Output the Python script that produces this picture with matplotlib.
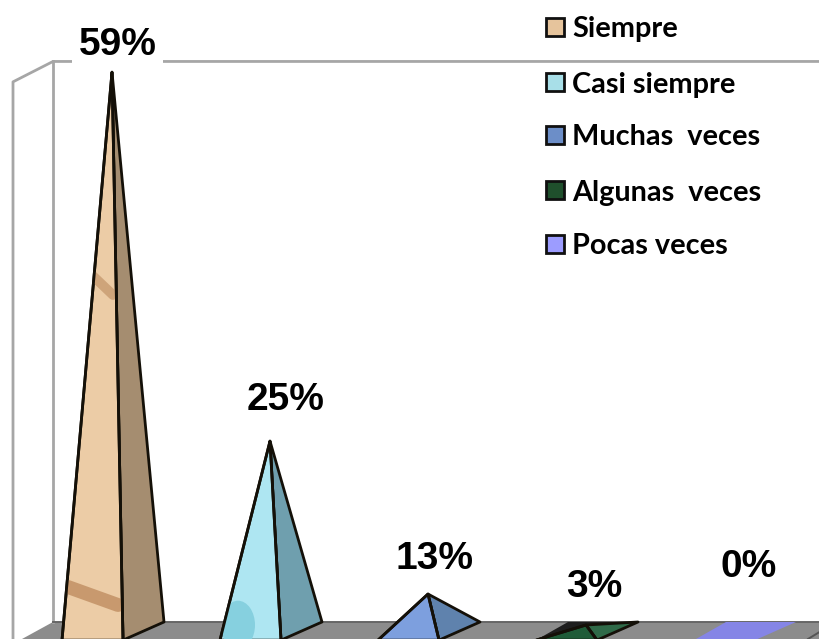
import matplotlib
matplotlib.use("Agg")
import matplotlib.pyplot as plt
from matplotlib.patches import Polygon, Ellipse, Rectangle

categories = ["Siempre", "Casi siempre", "Muchas  veces", "Algunas  veces", "Pocas veces"]
percent_labels = ["59%", "25%", "13%", "3%", "0%"]
# drawn apex height (chart units, perspective-distorted)
apex_heights = [59.0, 21.0, 5.25, 2.06, 0.0]
label_heights = [61.75, 25.2, 8.9, 5.95, 8.0]
label_dx = [0.035, 0.10, 0.04, 0.05, 0.03]

front_colors = ["#ecccA6", "#aee6f2", "#7d9fde", "#1f5c38", "#8585e6"]
side_colors = ["#a58d70", "#6f9fae", "#5f82ad", "#2f6a48", "#8585e6"]
base_colors = ["#a58d70", "#6f9fae", "#5f82ad", "#1e1e1e", "#8585e6"]
swatch_colors = ["#e6c49c", "#a8dfe8", "#6c8ec8", "#1f4f2c", "#9c9cff"]

WALL_TOP = 60.1
FLOOR_BACK = 2.37
FRONT = 0.5
PX = 1 / 158  # px -> category units
UNIT = 1 / 9.71  # px -> height units

fig = plt.figure(figsize=(8.2, 6.39), dpi=100)
ax = fig.add_axes([0, 0, 1, 1])
ax.set_xlim(-112 * PX, 708 * PX)
ax.set_ylim(0.618, 66.43)
ax.axis("off")

wall_c = "#a6a6a6"
x_back = (53 - 112) * PX
x_out = (13 - 112) * PX
x_max = ax.get_xlim()[1]
ybot = ax.get_ylim()[0]

# floor
ax.add_patch(Polygon([(x_back, FLOOR_BACK), (x_max, FLOOR_BACK), (x_max, ybot), ((22 - 112) * PX, ybot)],
                     fc="#8c8c8c", ec="none", zorder=1))
ax.plot([x_back, x_max], [FLOOR_BACK, FLOOR_BACK], color="#666666", lw=1.4, zorder=1.5)
ax.plot([(808 - 112) * PX, x_max], [ybot, ybot + 0.75], color="#555555", lw=1.4, zorder=1.5)

# walls
ax.plot([x_out, x_out, x_back, x_max], [ybot, 58.0, WALL_TOP, WALL_TOP], color=wall_c, lw=2.0, zorder=1)
ax.plot([x_back, x_back], [FLOOR_BACK, WALL_TOP], color=wall_c, lw=2.0, zorder=1)

BL, BR, FR, FL = -18 * PX, 52 * PX, 11 * PX, -50 * PX
EDGE = "#141008"


def streak(x0, y0, x1, y1, lw, col, clip, alpha=0.8):
    line, = ax.plot([x0, x1], [y0, y1], color=col, lw=lw, alpha=alpha,
                    solid_capstyle="round", zorder=3.1)
    line.set_clip_path(clip)


for i, h in enumerate(apex_heights):
    ax.add_patch(Polygon([(i + BL, FLOOR_BACK), (i + BR, FLOOR_BACK), (i + FR, FRONT), (i + FL, FRONT)],
                         fc=base_colors[i], ec="none", zorder=2))
    if h <= 0:
        continue
    side = Polygon([(i, h), (i + BR, FLOOR_BACK), (i + FR, FRONT)], fc=side_colors[i],
                   ec=EDGE, lw=2.0, joinstyle="round", zorder=3)
    front = Polygon([(i, h), (i + FR, FRONT), (i + FL, FRONT)], fc=front_colors[i],
                    ec=EDGE, lw=2.0, joinstyle="round", zorder=3)
    ax.add_patch(side)
    ax.add_patch(front)
    if i == 0:
        streak((92 - 112) * PX, (645 - 275) * UNIT, (113 - 112) * PX, (645 - 295) * UNIT, 7, "#c79a70", front)
        streak((68 - 112) * PX, (645 - 587) * UNIT, (118 - 112) * PX, (645 - 605) * UNIT, 10, "#bf8d60", front)
    if i == 1:
        e = Ellipse((1 + (238 - 270) * PX, (645 - 625) * UNIT), 34 * PX, 5.0, fc="#86d0df", ec="none", zorder=3.1)
        ax.add_patch(e)
        e.set_clip_path(front)
    ax.add_patch(Polygon([(i, h), (i + FR, FRONT), (i + FL, FRONT)], fc="none", ec=EDGE, lw=2.0, zorder=3.2))

# data labels
for i, lab in enumerate(percent_labels):
    t = ax.text(i + label_dx[i], label_heights[i], lab, ha="center", va="center",
                fontfamily="Liberation Sans", fontweight="bold", fontsize=28, color="black", zorder=5)
    if i == 0:
        t.set_bbox(dict(fc="white", ec="none", pad=5))

# legend
leg_y = [27, 82, 135, 190, 244]
for name, col, py in zip(categories, swatch_colors, leg_y):
    fx = 554.5 / 820
    fy = 1 - py / 639
    ax.add_patch(Rectangle((fx - 9 / 820, fy - 9 / 639), 18 / 820, 18 / 639, transform=ax.transAxes,
                           fc=col, ec="#101010", lw=2.0, zorder=6))
    ax.text(572 / 820, fy, name, transform=ax.transAxes, ha="left", va="center_baseline",
            fontfamily="Lato", fontweight="bold", fontsize=20.8, color="black", zorder=6)

fig.savefig("out.png", dpi=100)
